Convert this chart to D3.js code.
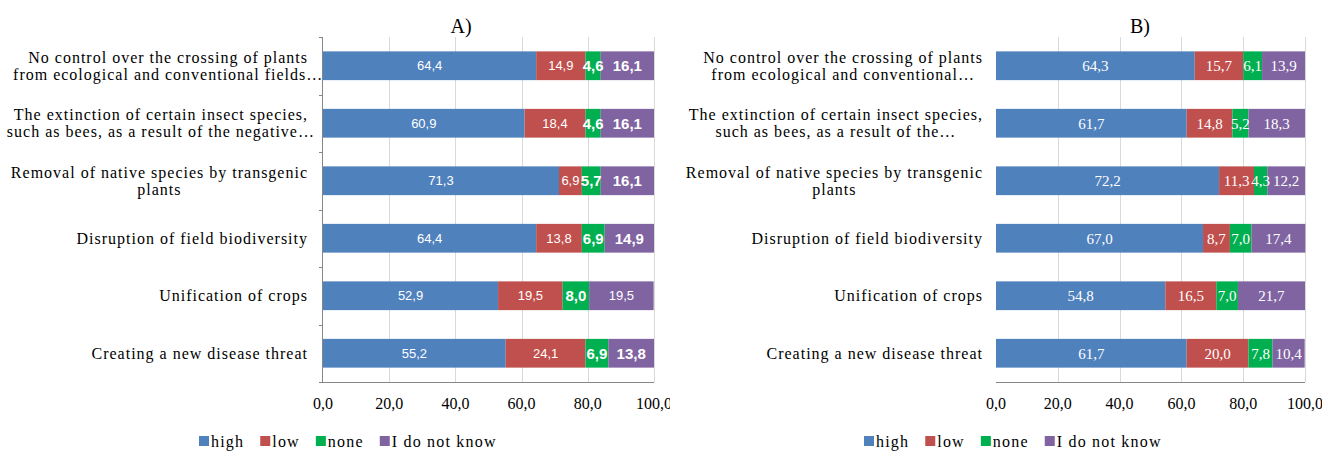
<!DOCTYPE html>
<html>
<head>
<meta charset="utf-8">
<script src="https://cdn.jsdelivr.net/npm/d3@7"></script>
<style>
  html, body { margin: 0; padding: 0; background: #fff; }
  svg { display: block; }
</style>
</head>
<body>
<svg id="chart" width="1322" height="451"></svg>
<script>
// ---- data ----
const seriesNames = ["high", "low", "none", "I do not know"];
const seriesKeys = ["high", "low", "none", "idk"];
const seriesColors = ["#4F81BD", "#C0504D", "#00B050", "#8064A2"];

const panelTitles = ["A)", "B)"];

const categoriesA = [
  "No control over the crossing of plants\nfrom ecological and conventional fields…",
  "The extinction of certain insect species,\nsuch as bees, as a result of the negative…",
  "Removal of native species by transgenic\nplants",
  "Disruption of field biodiversity",
  "Unification of crops",
  "Creating a new disease threat"
];
const categoriesB = [
  "No control over the crossing of plants\nfrom ecological and conventional…",
  "The extinction of certain insect species,\nsuch as bees, as a result of the…",
  "Removal of native species by transgenic\nplants",
  "Disruption of field biodiversity",
  "Unification of crops",
  "Creating a new disease threat"
];

const highA = [64.4, 60.9, 71.3, 64.4, 52.9, 55.2];
const lowA  = [14.9, 18.4, 6.9, 13.8, 19.5, 24.1];
const noneA = [4.6, 4.6, 5.7, 6.9, 8.0, 6.9];
const idkA  = [16.1, 16.1, 16.1, 14.9, 19.5, 13.8];

const highB = [64.3, 61.7, 72.2, 67.0, 54.8, 61.7];
const lowB  = [15.7, 14.8, 11.3, 8.7, 16.5, 20.0];
const noneB = [6.1, 5.2, 4.3, 7.0, 7.0, 7.8];
const idkB  = [13.9, 18.3, 12.2, 17.4, 21.7, 10.4];

const tickValues = [0, 20, 40, 60, 80, 100];

// ---- helpers ----
const SERIF = "'Liberation Serif', 'Times New Roman', serif";
const SANS = "'Liberation Sans', Arial, sans-serif";
const fmt = v => d3.format(".1f")(v).replace(".", ",");
const svg = d3.select("#chart");

function rowsFrom(cats, h, l, n, i) {
  return cats.map((c, k) => ({ cat: c, high: h[k], low: l[k], none: n[k], idk: i[k] }));
}

function drawPanel(opt) {
  const g = svg.append("g");
  const id = "clip" + opt.id;
  svg.append("clipPath").attr("id", id)
    .append("rect").attr("x", opt.clipX).attr("y", 0).attr("width", opt.clipW).attr("height", 451);
  g.attr("clip-path", `url(#${id})`);

  const x = d3.scaleLinear().domain([0, 100]).range([opt.x0, opt.x1]);
  const y = d3.scaleBand().domain(opt.rows.map(r => r.cat))
    .range([opt.top, opt.bottom]).paddingInner(0.5).paddingOuter(0.25);

  // vertical gridlines
  g.append("g").selectAll("line")
    .data(tickValues.filter(t => t > 0))
    .join("line")
    .attr("x1", d => Math.round(x(d)) + 0.5).attr("x2", d => Math.round(x(d)) + 0.5)
    .attr("y1", opt.top).attr("y2", opt.bottom)
    .attr("stroke", "#d9d9d9").attr("stroke-width", 1);

  // stacked bars
  const stack = d3.stack().keys(seriesKeys)(opt.rows);
  const layers = g.append("g").selectAll("g")
    .data(stack).join("g")
    .attr("fill", (d, i) => seriesColors[i]);
  layers.selectAll("rect")
    .data(d => d.map(s => ({ s, key: d.key })))
    .join("rect")
    .attr("x", d => x(d.s[0]))
    .attr("width", d => x(d.s[1]) - x(d.s[0]))
    .attr("y", d => y(d.s.data.cat))
    .attr("height", y.bandwidth());

  // value labels
  const labels = g.append("g");
  stack.forEach((layer, si) => {
    layer.forEach((s, ri) => {
      const bold = opt.isBold(si, ri);
      labels.append("text")
        .attr("x", (x(s[0]) + x(s[1])) / 2)
        .attr("y", y(s.data.cat) + y.bandwidth() / 2)
        .attr("dy", "0.36em")
        .attr("text-anchor", "middle")
        .attr("fill", "#fff")
        .attr("font-family", opt.labelFont)
        .attr("font-size", bold ? opt.labelBoldSize : opt.labelSize)
        .attr("font-weight", bold ? "bold" : "normal")
        .text(fmt(s.data[seriesKeys[si]]));
    });
  });

  // x axis line
  g.append("line")
    .attr("x1", opt.x0).attr("x2", opt.x1)
    .attr("y1", opt.bottom + 0.5).attr("y2", opt.bottom + 0.5)
    .attr("stroke", "#868686").attr("stroke-width", 1);

  // y axis line with category ticks
  if (opt.yAxisLine) {
    g.append("line")
      .attr("x1", opt.x0 - 0.5).attr("x2", opt.x0 - 0.5)
      .attr("y1", opt.top).attr("y2", opt.bottom + 1)
      .attr("stroke", "#868686").attr("stroke-width", 1);
    const step = y.step();
    g.append("g").selectAll("line")
      .data(d3.range(opt.rows.length + 1))
      .join("line")
      .attr("x1", opt.x0 - 4).attr("x2", opt.x0)
      .attr("y1", k => Math.round(opt.top + k * step) + 0.5)
      .attr("y2", k => Math.round(opt.top + k * step) + 0.5)
      .attr("stroke", "#868686");
  }

  // tick labels
  g.append("g").selectAll("text")
    .data(tickValues).join("text")
    .attr("x", d => x(d))
    .attr("y", opt.bottom + 27)
    .attr("text-anchor", "middle")
    .attr("font-family", SERIF)
    .attr("font-size", 16)
    .attr("fill", "#000")
    .text(fmt);

  // category labels: block right-aligned, lines centred on the first line
  const catStyle = sel => sel.attr("font-family", SERIF).attr("font-size", 16)
    .attr("letter-spacing", 1).attr("fill", "#000");
  opt.rows.forEach(r => {
    const lines = r.cat.split("\n");
    const cy = y(r.cat) + y.bandwidth() / 2;
    const t = g.append("text").call(catStyle);
    if (lines.length === 1) {
      t.attr("x", opt.labelRight).attr("y", cy).attr("dy", "0.33em")
        .attr("text-anchor", "end").text(lines[0]);
    } else {
      const probe = g.append("text").call(catStyle).text(lines[0]);
      const w = probe.node().getComputedTextLength();
      probe.remove();
      const cx = opt.labelRight - w / 2;
      const lh = 17;
      lines.forEach((ln, k) => {
        t.append("tspan")
          .attr("x", cx)
          .attr("y", cy + (k - (lines.length - 1) / 2) * lh)
          .attr("dy", "0.33em")
          .attr("text-anchor", "middle")
          .text(ln);
      });
    }
  });

  // title
  g.append("text")
    .attr("x", opt.titleX).attr("y", 33)
    .attr("text-anchor", "middle")
    .attr("font-family", SERIF)
    .attr("font-size", 20)
    .text(opt.title);

  // legend
  const lg = g.append("g").attr("font-family", SERIF).attr("font-size", 16)
    .attr("letter-spacing", 1.2);
  let lx = opt.legendX;
  seriesNames.forEach((name, i) => {
    lg.append("rect").attr("x", lx).attr("y", 436).attr("width", 10).attr("height", 10)
      .attr("fill", seriesColors[i]);
    const tx = lg.append("text").attr("x", lx + 12).attr("y", 447).attr("fill", "#000").text(name);
    lx += 12 + tx.node().getComputedTextLength() + 16;
  });
}

// labels drawn in bold in panel A: all "none" values and most "I do not know" values
const boldA = new Set(["2:0", "2:1", "2:2", "2:3", "2:4", "2:5", "3:0", "3:1", "3:2", "3:3", "3:5"]);

drawPanel({
  id: "A",
  rows: rowsFrom(categoriesA, highA, lowA, noneA, idkA),
  x0: 323, x1: 654, top: 37, bottom: 382,
  clipX: 0, clipW: 670,
  yAxisLine: true,
  labelRight: 308,
  labelFont: SANS,
  labelSize: 13, labelBoldSize: 15,
  isBold: (s, r) => boldA.has(s + ":" + r),
  title: panelTitles[0], titleX: 461,
  legendX: 199
});

drawPanel({
  id: "B",
  rows: rowsFrom(categoriesB, highB, lowB, noneB, idkB),
  x0: 996, x1: 1305, top: 37, bottom: 382,
  clipX: 670, clipW: 652,
  yAxisLine: false,
  labelRight: 983,
  labelFont: SERIF,
  labelSize: 15, labelBoldSize: 15,
  isBold: () => false,
  title: panelTitles[1], titleX: 1140,
  legendX: 864
});
</script>
</body>
</html>
